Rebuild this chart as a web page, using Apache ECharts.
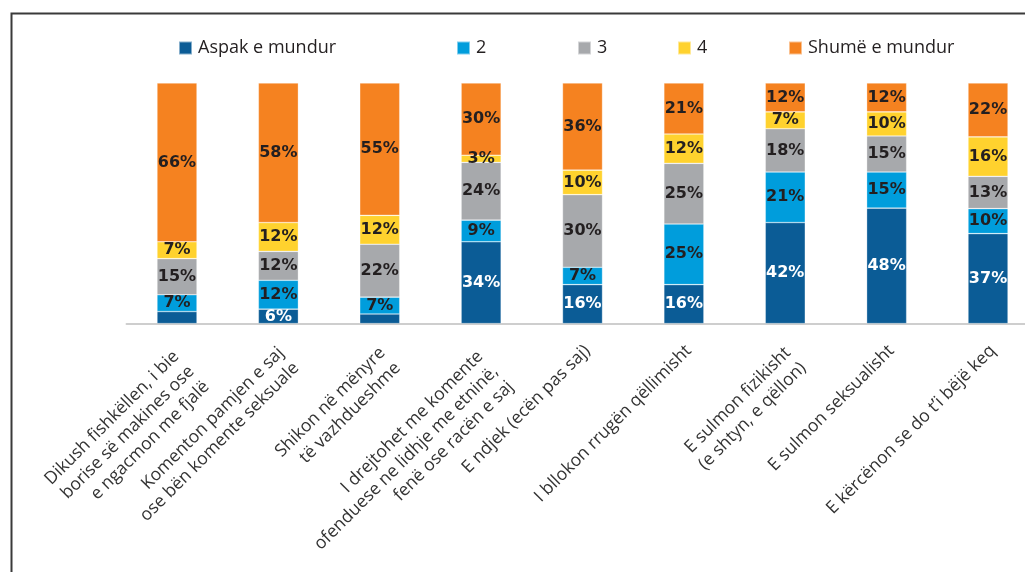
<!DOCTYPE html>
<html><head><meta charset="utf-8">
<script src="https://cdn.jsdelivr.net/npm/echarts@6/dist/echarts.min.js"></script>
<style>html,body{margin:0;padding:0;background:#fff;overflow:hidden}#c{width:1045px;height:572px}</style>
</head><body><div id="c"></div>
<script>
const categories = [
  "Dikush fishkëllen, i bie\nborise së makines ose\ne ngacmon me fjalë",
  "Komenton pamjen e saj\nose bën komente seksuale",
  "Shikon në mënyre\ntë vazhdueshme",
  "I drejtohet me komente\nofenduese ne lidhje me etninë,\nfenë ose racën e saj",
  "E ndjek (ecën pas saj)",
  "I bllokon rrugën qëllimisht",
  "E sulmon fizikisht\n(e shtyn, e qëllon)",
  "E sulmon seksualisht",
  "E kërcënon se do t’i bëjë keq"
];
const seriesNames = ["Aspak e mundur", "2", "3", "4", "Shumë e mundur"];
const aspak  = [5, 6, 4, 34, 16.2, 16.2, 42, 48, 37.4];
const s2     = [7, 12, 7, 9, 7.2, 25.2, 21, 15, 10.4];
const s3     = [15, 12, 22, 24, 30.2, 25.2, 18, 15, 13.4];
const s4     = [7, 12, 12, 3, 10.2, 12.2, 7, 10, 16.4];
const shume  = [66, 58, 55, 30, 36.2, 21.2, 12, 12, 22.4];
const seriesData = [aspak, s2, s3, s4, shume];
const colors = ["#0B5C96", "#009DDC", "#A7A9AC", "#FFD22E", "#F58220"];
const labelColors = ["#ffffff", "#231F20", "#231F20", "#231F20", "#231F20"];
const legendLeft = [178, 456, 577, 677, 788];

const labelStyle = pr => ({ align: 'right', fontFamily: 'Open Sans', fontSize: 17.5, color: '#333333', lineHeight: 21.5, padding: [0, pr, 0, 0] });

const chart = echarts.init(document.getElementById('c'));
const option = {
  animation: false,
  graphic: [{
    type: 'rect', left: 9, top: 11, silent: true,
    shape: { width: 1100, height: 700 },
    style: { fill: 'none', stroke: '#3a3a3a', lineWidth: 2 }
  }],
  legend: seriesNames.map((n, i) => ({
    data: [n], left: legendLeft[i], top: 39, padding: 0,
    icon: 'rect', itemWidth: 13, itemHeight: 13, itemGap: 0,
    textStyle: { fontFamily: 'Open Sans', fontSize: 18, color: '#231F20', padding: [0, 0, 0, 1] }
  })),
  grid: { left: 126.3, top: 83, height: 241, width: 912.4, containLabel: false },
  xAxis: {
    type: 'category', data: categories,
    axisTick: { show: false },
    axisLine: { lineStyle: { color: '#BFBFBF', width: 1.5 } },
    axisLabel: {
      rotate: 45, interval: 0, margin: 14, align: 'right', verticalAlign: 'top',
      fontFamily: 'Open Sans', fontSize: 17.5, color: '#333333', lineHeight: 21.5,
      formatter: v => {
        const lines = v.split('\n');
        const k = 'r' + lines.length;
        return lines.map(l => '{' + k + '|' + l + '}').join('\n');
      },
      rich: { r1: labelStyle(4), r2: labelStyle(7), r3: labelStyle(12) }
    }
  },
  yAxis: { type: 'value', min: 0, max: 100, show: false, splitLine: { show: false } },
  series: seriesNames.map((n, i) => ({
    name: n, type: 'bar', stack: 'all', barWidth: 40,
    data: seriesData[i],
    itemStyle: { color: colors[i], borderColor: 'rgba(255,255,255,0.5)', borderWidth: 0.6 },
    label: {
      show: true, position: 'inside',
      fontFamily: 'DejaVu Sans', fontWeight: 'bold', fontSize: 16, color: labelColors[i],
      formatter: p => (i === 0 && p.value < 5.5) ? '' : Math.round(p.value) + '%'
    }
  }))
};
chart.setOption(option);
</script>
</body></html>
